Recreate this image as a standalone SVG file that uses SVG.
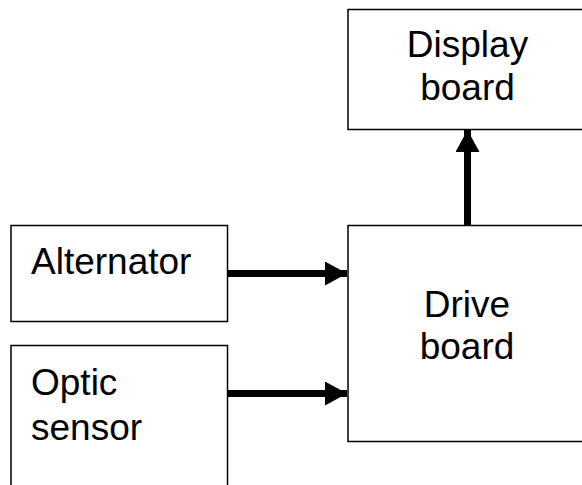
<svg xmlns="http://www.w3.org/2000/svg" width="582" height="485" viewBox="0 0 582 485">
  <style>
    .box { fill: #ffffff; stroke: #000000; stroke-width: 1.5; }
    .label { font-family: "Liberation Sans", Arial, sans-serif; font-size: 37px; fill: #000000; }
    .mid { text-anchor: middle; }
    .wire { stroke: #000000; stroke-width: 7; fill: none; }
  </style>
  <defs>
    <marker id="arrowhead" viewBox="0 0 22 24" refX="22" refY="12" markerWidth="22" markerHeight="24" markerUnits="userSpaceOnUse" orient="auto">
      <path d="M0,0 L22,12 L0,24 Z" fill="#000000"/>
    </marker>
  </defs>
  <rect width="582" height="485" fill="#ffffff"/>

  <g id="display-board">
    <rect class="box" x="348" y="9.5" width="250" height="120"/>
    <text class="label mid" x="467.5" y="57">Display</text>
    <text class="label mid" x="467.5" y="100">board</text>
  </g>

  <g id="drive-board">
    <rect class="box" x="348" y="225.5" width="250" height="216"/>
    <text class="label mid" x="467" y="317">Drive</text>
    <text class="label mid" x="467" y="359">board</text>
  </g>

  <g id="alternator">
    <rect class="box" x="11" y="225.5" width="216.5" height="96"/>
    <text class="label" x="31" y="274">Alternator</text>
  </g>

  <g id="optic-sensor">
    <rect class="box" x="11" y="345.5" width="216.5" height="160"/>
    <text class="label" x="31" y="395">Optic</text>
    <text class="label" x="31" y="440">sensor</text>
  </g>

  <g id="connectors">
    <line class="wire" x1="227.5" y1="273.5" x2="347" y2="273.5" marker-end="url(#arrowhead)"/>
    <line class="wire" x1="227.5" y1="393.5" x2="347" y2="393.5" marker-end="url(#arrowhead)"/>
    <line class="wire" x1="467.5" y1="225" x2="467.5" y2="130" marker-end="url(#arrowhead)"/>
  </g>
</svg>
